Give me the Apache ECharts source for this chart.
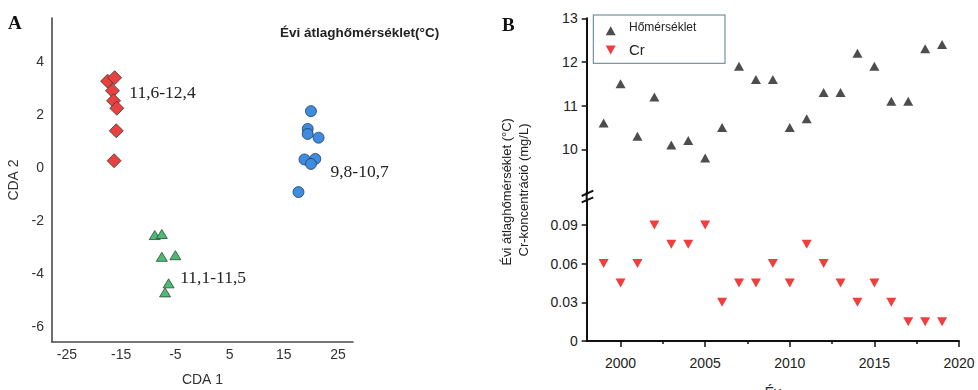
<!DOCTYPE html>
<html>
<head>
<meta charset="utf-8">
<script src="https://cdn.jsdelivr.net/npm/echarts@6/dist/echarts.min.js"></script>
<style>
  html, body { margin: 0; padding: 0; background: #fff; }
  #wrap { position: relative; width: 978px; height: 390px; overflow: hidden; }
  #chartA { position: absolute; left: 0; top: 0; width: 490px; height: 390px; }
  #chartB { position: absolute; left: 490px; top: 0; width: 488px; height: 390px; }
  #deco { position: absolute; left: 0; top: 0; pointer-events: none; }
</style>
</head>
<body>
<div id="wrap">
  <div id="chartA"></div>
  <div id="chartB"></div>
  <svg id="deco" width="978" height="390" xmlns="http://www.w3.org/2000/svg">
    <g font-family="'Liberation Sans', Arial, sans-serif" fill="#222">
      <text x="502" y="31" font-family="'Liberation Serif', serif" font-weight="bold" font-size="19" fill="#111">B</text>
      <!-- legend -->
      <rect x="593.3" y="15" width="131.7" height="48.3" fill="none" stroke="#5d7c8e" stroke-width="1"></rect>
      <polygon points="605.7,35.2 615.7,35.2 610.7,26.2" fill="#4d4d4d"></polygon>
      <text x="629" y="31" font-size="12">Hőmérséklet</text>
      <polygon points="605.7,45.5 615.7,45.5 610.7,54.5" fill="#f23d3d"></polygon>
      <text x="629" y="55" font-size="15">Cr</text>
      <!-- y axis name -->
      <text transform="translate(515,190) rotate(-90)" text-anchor="middle" font-size="13">
        <tspan x="0" y="-3.8">Évi átlaghőmérséklet (°C)</tspan>
        <tspan x="0" y="12.8">Cr-koncentráció (mg/L)</tspan>
      </text>
      <!-- axis break -->
      <line x1="586.7" y1="192" x2="586.7" y2="200" stroke="#111" stroke-width="2"></line>
      <line x1="581.7" y1="196" x2="593.3" y2="190.7" stroke="#111" stroke-width="2"></line>
      <line x1="581.7" y1="202.3" x2="593.3" y2="197.3" stroke="#111" stroke-width="2"></line>
    </g>
  </svg>
</div>
<script>
// Panel A - CDA scores, one group per temperature range
const warmX = [-17.5, -16.2, -16.6, -16.4, -15.8, -15.9, -16.3];
const warmY = [3.27, 3.40, 2.91, 2.53, 2.25, 1.40, 0.27];
const coolX = [20.0, 19.4, 19.4, 21.4, 18.8, 20.8, 20.0, 17.7];
const coolY = [2.14, 1.47, 1.28, 1.14, 0.32, 0.34, 0.15, -0.91];
const midX = [-8.8, -7.5, -7.5, -5.0, -6.25, -6.9];
const midY = [-2.53, -2.49, -3.35, -3.29, -4.35, -4.69];
const cdaXTicks = [-25, -15, -5, 5, 15, 25];
const cdaYTicks = [-6, -4, -2, 0, 2, 4];
// group labels, placed at CDA coordinates
const groupLabels = ["11,6-12,4", "9,8-10,7", "11,1-11,5"];
const groupLabelAt = [[-13.5, 2.8], [23.6, -0.15], [-4.1, -4.15]];

// Panel B - yearly mean temperature and Cr concentration
const years = [1999, 2000, 2001, 2002, 2003, 2004, 2005, 2006, 2007, 2008, 2009,
  2010, 2011, 2012, 2013, 2014, 2015, 2016, 2017, 2018, 2019];
const temperature = [10.6, 11.5, 10.3, 11.2, 10.1, 10.2, 9.8, 10.5, 11.9, 11.6, 11.6,
  10.5, 10.7, 11.3, 11.3, 12.2, 11.9, 11.1, 11.1, 12.3, 12.4];
const chromium = [0.06, 0.045, 0.06, 0.09, 0.075, 0.075, 0.09, 0.03, 0.045, 0.045, 0.06,
  0.045, 0.075, 0.06, 0.045, 0.03, 0.045, 0.03, 0.015, 0.015, 0.015];
const yearTicks = [2000, 2005, 2010, 2015, 2020];
const yearMinorTicks = [2002.5, 2007.5, 2012.5, 2017.5];
const tempTicks = [10, 11, 12, 13];
const crTicks = [0, 0.03, 0.06, 0.09];

const SANS = "'Liberation Sans', Arial, sans-serif";
const SERIF = "'Liberation Serif', 'Times New Roman', serif";

// ---------- panel A ----------
const chartA = echarts.init(document.getElementById("chartA"));
const lineA = { color: "#4a4a4a", width: 1.6 };

chartA.setOption({
  animation: false,
  textStyle: { fontFamily: SANS },
  grid: { left: 52, top: 18, width: 301, height: 324, outerBoundsMode: "none" },
  xAxis: {
    type: "value", min: -27.75, max: 27.75,
    axisLine: { show: true, onZero: false, lineStyle: lineA },
    axisTick: { show: false }, splitLine: { show: false },
    axisLabel: { customValues: cdaXTicks, fontSize: 14, color: "#333", margin: 6 },
    name: "CDA 1", nameLocation: "middle", nameGap: 31,
    nameTextStyle: { fontSize: 14, color: "#333" },
  },
  yAxis: {
    type: "value", min: -6.56, max: 5.65,
    axisLine: { show: true, onZero: false, lineStyle: lineA },
    axisTick: { show: false }, splitLine: { show: false },
    axisLabel: { customValues: cdaYTicks, fontSize: 14, color: "#333", margin: 8 },
    name: "CDA 2", nameLocation: "middle", nameGap: 27,
    nameTextStyle: { fontSize: 14, color: "#333" },
  },
  series: [
    {
      type: "scatter", symbol: "diamond", symbolSize: 14,
      itemStyle: { color: "#e8413f", borderColor: "#3a3a3a", borderWidth: 0.8, opacity: 1 },
      data: warmX.map((x, i) => [x, warmY[i]]),
    },
    {
      type: "scatter", symbol: "circle", symbolSize: 11,
      itemStyle: { color: "#3f8be0", borderColor: "#1f3b66", borderWidth: 0.8, opacity: 1 },
      data: coolX.map((x, i) => [x, coolY[i]]),
    },
    {
      type: "scatter", symbol: "triangle", symbolSize: [11, 9],
      itemStyle: { color: "#4dbb74", borderColor: "#2d4a36", borderWidth: 0.8, opacity: 1 },
      data: midX.map((x, i) => [x, midY[i]]),
    },
  ],
});

const labelGraphics = groupLabels.map((t, i) => {
  const p = chartA.convertToPixel({ gridIndex: 0 }, groupLabelAt[i]);
  return {
    type: "text", x: p[0], y: p[1],
    style: { text: t, font: "17.5px " + SERIF, fill: "#222", verticalAlign: "middle" },
  };
});
chartA.setOption({
  graphic: labelGraphics.concat([
    { type: "text", x: 8, y: 24,
      style: { text: "A", font: "bold 19px " + SERIF, fill: "#111", verticalAlign: "middle" } },
    { type: "text", x: 280, y: 33,
      style: { text: "Évi átlaghőmérséklet(°C)", font: "bold 13.5px " + SANS, fill: "#222", verticalAlign: "middle" } },
  ]),
});

// ---------- panel B (broken y axis: two stacked grids) ----------
const chartB = echarts.init(document.getElementById("chartB"), null, { renderer: "svg" });
const lineB = { color: "#111", width: 2 };
const tickB = { color: "#111", width: 1.5 };

chartB.setOption({
  animation: false,
  textStyle: { fontFamily: SANS },
  grid: [
    { left: 96.7, top: 18.3, width: 372.3, height: 175.1, outerBoundsMode: "none" },
    { left: 96.7, top: 199.5, width: 372.3, height: 141.5, outerBoundsMode: "none" },
  ],
  xAxis: [
    { gridIndex: 0, type: "value", min: 1998, max: 2020, show: false },
    {
      gridIndex: 1, type: "value", min: 1998, max: 2020, position: "bottom",
      axisLine: { show: true, onZero: false, lineStyle: lineB }, splitLine: { show: false },
      axisTick: { show: true, customValues: yearTicks, length: 6, lineStyle: tickB },
      axisLabel: { customValues: yearTicks, fontSize: 14, color: "#222", margin: 15,
        formatter: (v) => String(v) },
      name: "Év", nameLocation: "middle", nameGap: 44,
      nameTextStyle: { fontSize: 14, color: "#222" },
    },
    {
      gridIndex: 1, type: "value", min: 1998, max: 2020, position: "bottom",
      axisLine: { show: false, onZero: false }, splitLine: { show: false }, axisLabel: { show: false },
      axisTick: { show: true, customValues: yearMinorTicks, length: 3, lineStyle: tickB },
    },
  ],
  yAxis: [
    {
      gridIndex: 0, type: "value", min: 8.99, max: 13, position: "left",
      axisLine: { show: true, onZero: false, lineStyle: lineB }, splitLine: { show: false },
      axisTick: { show: true, customValues: tempTicks, length: 5, lineStyle: tickB },
      axisLabel: { customValues: tempTicks, fontSize: 14, color: "#222", margin: 9 },
    },
    {
      gridIndex: 1, type: "value", min: 0, max: 0.1097, position: "left",
      axisLine: { show: true, onZero: false, lineStyle: lineB }, splitLine: { show: false },
      axisTick: { show: true, customValues: crTicks, length: 5, lineStyle: tickB },
      axisLabel: {
        customValues: crTicks, fontSize: 14, color: "#222", margin: 9,
        formatter: (v) => (v === 0 ? "0" : v.toFixed(2)),
      },
    },
  ],
  series: [
    {
      name: "Hőmérséklet", type: "scatter", xAxisIndex: 0, yAxisIndex: 0,
      symbol: "triangle", symbolSize: [10, 9],
      itemStyle: { color: "#4d4d4d", opacity: 1 },
      data: years.map((y, i) => [y, temperature[i]]),
    },
    {
      name: "Cr", type: "scatter", xAxisIndex: 1, yAxisIndex: 1,
      symbol: "triangle", symbolRotate: 180, symbolSize: [10, 9],
      itemStyle: { color: "#f23d3d", opacity: 1 },
      data: years.map((y, i) => [y, chromium[i]]),
    },
  ],
});
</script>
</body>
</html>
